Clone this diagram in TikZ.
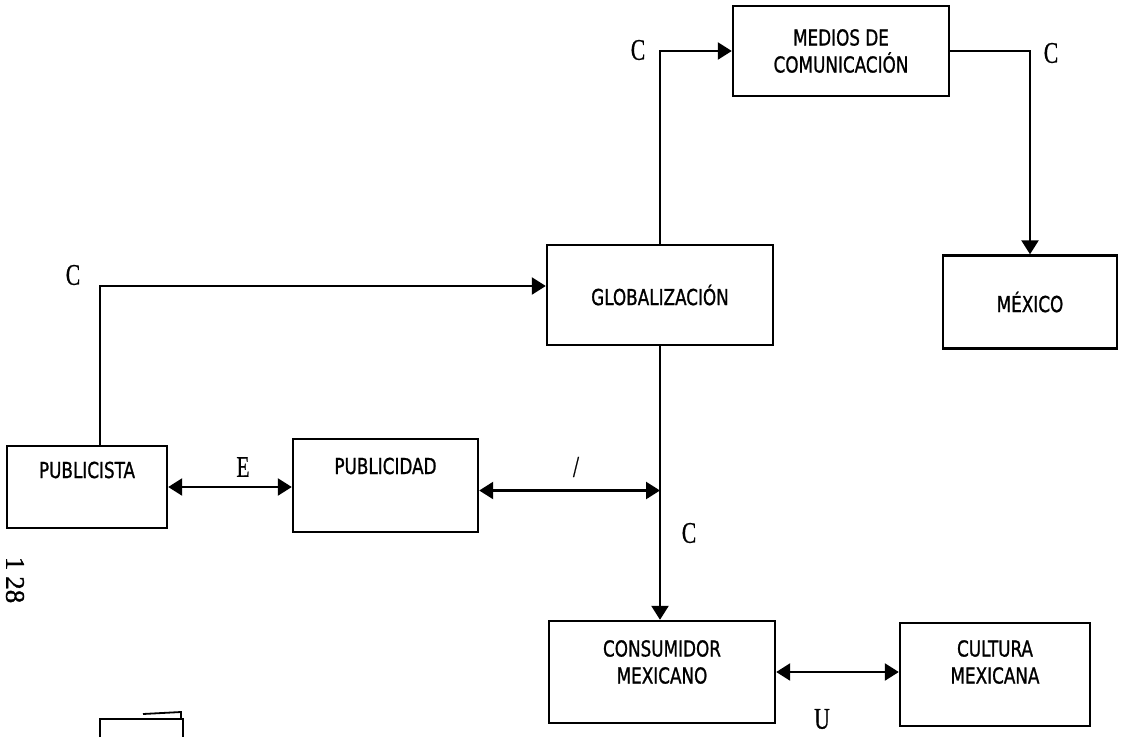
\documentclass[tikz,border=0pt]{standalone}
\usepackage{fontspec}
\usetikzlibrary{arrows.meta,calc}
\newfontfamily\boxfont[FakeStretch=0.85,FakeBold=1]{DejaVu Sans Condensed}
\newfontfamily\lblfont[FakeStretch=0.72,FakeBold=0.6]{Liberation Serif}
\newfontfamily\pgfont[FakeBold=1]{Liberation Serif}
\begin{document}
\begin{tikzpicture}[x=1pt,y=-1pt,
  box/.style={draw,line width=2.4pt,inner sep=0pt,anchor=center},
  txt/.style={font=\boxfont\fontsize{22}{27}\selectfont,align=center,inner sep=0pt},
  lbl/.style={font=\lblfont\fontsize{30}{32}\selectfont,inner sep=0pt},
  arr/.style={line width=2.4pt,-{Triangle[length=14pt,width=17pt]}},
  darr/.style={line width=2.4pt,{Triangle[length=14pt,width=17pt]}-{Triangle[length=14pt,width=17pt]}},
  ln/.style={line width=2.4pt}]
\useasboundingbox (0,0) rectangle (1121,737);
% boxes
\node[box,minimum width=216pt,minimum height=90pt,txt] (medios) at (841,51) {MEDIOS DE\\COMUNICACIÓN};
\node[box,minimum width=174pt,minimum height=93pt,txt] (mexico) at (1030,302) {MÉXICO};
\node[box,minimum width=226pt,minimum height=100pt,txt] (glob) at (660,295) {GLOBALIZACIÓN};
\node[box,minimum width=160pt,minimum height=82pt] (publicista) at (87,487) {};
\node[txt] (publicistaT) at (87,470) {PUBLICISTA};
\node[box,minimum width=185pt,minimum height=93pt] (publicidad) at (385.5,485.5) {};
\node[txt] (publicidadT) at (385.5,466) {PUBLICIDAD};
\node[box,minimum width=226pt,minimum height=102pt] (cons) at (662,672) {};
\node[txt] (consT) at (662,662) {CONSUMIDOR\\MEXICANO};
\node[box,minimum width=190pt,minimum height=103pt] (cult) at (995,674.5) {};
\node[txt] (cultT) at (995,662) {CULTURA\\MEXICANA};
% connectors
\draw[arr] (glob.north) |- (medios.west);
\draw[arr] (medios.east) -| (mexico.north);
\draw[arr] ([xshift=13pt]publicista.north) |- ([yshift=9pt]glob.west);
\draw[arr] (glob.south) -- (glob.south |- cons.north);
\draw[darr] (publicista.east) -- (publicista.east -| publicidad.west);
\coordinate (iend) at ([yshift=-5pt]publicidad.east -| glob.south);
\draw[darr] ([yshift=-5pt]publicidad.east) -- (iend);
\draw[darr] (cons.east) -- (cons.east -| cult.west);
% labels
\node[lbl] (c1) at (638,50) {C};
\node[lbl] (c2) at (1051,53) {C};
\node[lbl] (c3) at (73,275) {C};
\node[lbl] (e) at (243,467) {E};
\node[lbl] (i) at (576,467) {/};
\node[lbl] (c4) at (689,533) {C};
\node[lbl] (u) at (822,719) {U};
\node[font=\pgfont\fontsize{27}{29}\selectfont,rotate=-90,inner sep=0pt] (pg) at (15,580) {1\kern6pt28};
% partial box at bottom left
\draw[ln] (100,737) -- (100,719) -- (183,719) -- (183,737);
\draw[line width=1.8pt] (143,714) -- (181,712) -- (181,719);
\end{tikzpicture}
\end{document}
